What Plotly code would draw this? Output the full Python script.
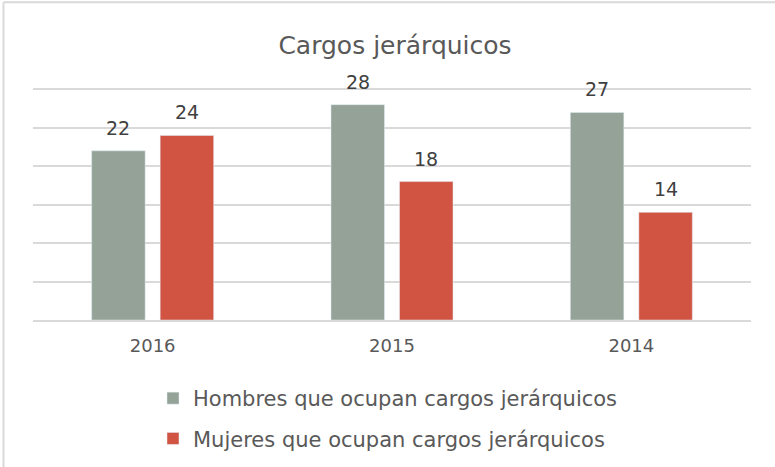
import plotly.graph_objects as go

categories = ["2016", "2015", "2014"]
hombres = [22, 28, 27]
mujeres = [24, 18, 14]
series_names = ["Hombres que ocupan cargos jerárquicos", "Mujeres que ocupan cargos jerárquicos"]
title_text = "Cargos jerárquicos"

FONT = "DejaVu Sans"
TXT = "#595959"
LBL = "#404040"
colors = ["#94A298", "#D05441"]

fig = go.Figure()
for i, (name, vals) in enumerate(zip(series_names, [hombres, mujeres])):
    fig.add_trace(go.Bar(x=categories, y=vals, name=name, marker_color=colors[i],
                         legendgroup=f"g{i}", offsetgroup=str(i)))

# data labels as annotations anchored to data values
offsets = [-0.143, 0.143]
for i, vals in enumerate([hombres, mujeres]):
    for j, v in enumerate(vals):
        fig.add_annotation(x=j + offsets[i], y=v, text=str(v), showarrow=False,
                           xref="x", yref="y", yanchor="middle", yshift=23,
                           font=dict(size=19, color=LBL, family=FONT))

fig.update_layout(
    width=775, height=467,
    margin=dict(l=33, r=24, t=87, b=147, autoexpand=False),
    paper_bgcolor="white", plot_bgcolor="white",
    barmode="group", bargap=0.4275, bargroupgap=0.219,
    title=dict(text=title_text, xref="container", x=395 / 775, xanchor="center",
               y=1 - 45 / 467, yanchor="middle",
               font=dict(family=FONT, size=25, color=TXT)),
    font=dict(family=FONT, color=TXT),
    xaxis=dict(showline=True, linecolor="#D9D9D9", linewidth=1.5, ticks="",
               ticklabelstandoff=9, tickfont=dict(size=18, color=TXT)),
    yaxis=dict(range=[0, 30.3], dtick=5, showticklabels=False, gridcolor="#D9D9D9",
               gridwidth=1.5, zeroline=False),
    legend=dict(orientation="v", xref="container", yref="container",
                x=153 / 775, xanchor="left", y=1 - 378 / 467, yanchor="top",
                font=dict(size=21, color=TXT, family=FONT), tracegroupgap=10,
                itemwidth=30, bgcolor="rgba(0,0,0,0)"),
    showlegend=True,
    shapes=[
        dict(type="line", xref="paper", yref="paper", x0=-0.0411, x1=1.05, y0=1.364, y1=1.364,
             line=dict(color="#D9D9D9", width=2)),
        dict(type="line", xref="paper", yref="paper", x0=-0.0411, x1=-0.0411, y0=1.364, y1=-0.7,
             line=dict(color="#D9D9D9", width=2)),
    ],
)

fig.write_html("out.html", config={"displayModeBar": False},
               post_script="document.body.style.margin='0';")
